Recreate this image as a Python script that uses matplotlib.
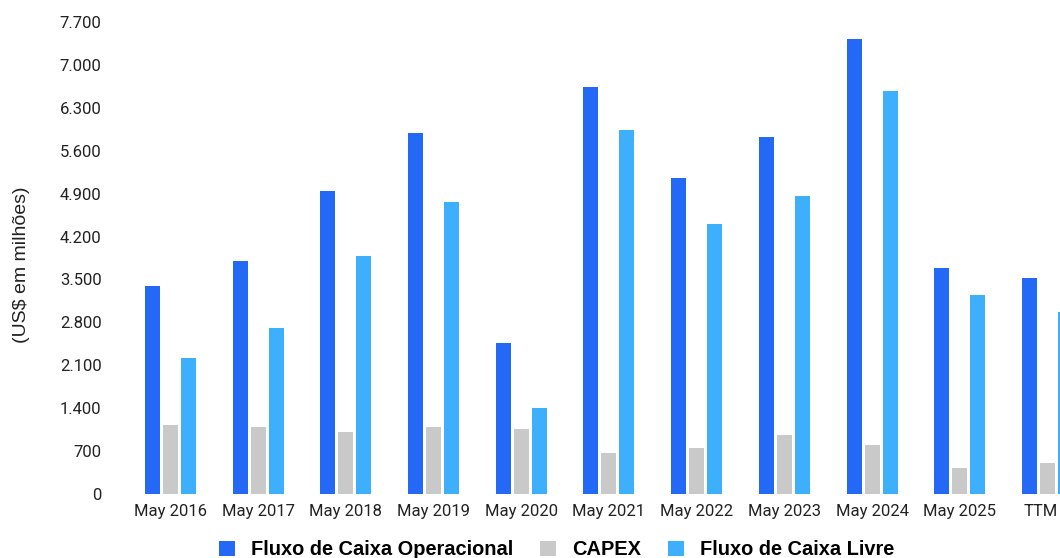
import matplotlib.pyplot as plt
from matplotlib.ticker import FuncFormatter, MultipleLocator
import matplotlib.transforms as mtransforms
import numpy as np

categories = ['May 2016', 'May 2017', 'May 2018', 'May 2019', 'May 2020', 'May 2021',
              'May 2022', 'May 2023', 'May 2024', 'May 2025', 'TTM']
fco = [3390, 3806, 4943, 5884, 2469, 6640, 5155, 5830, 7418, 3682, 3519]
capex = [1126, 1098, 1017, 1098, 1066, 669, 745, 963, 799, 424, 506]
fcl = [2224, 2703, 3888, 4759, 1398, 5933, 4405, 4862, 6580, 3241, 2974]

series_names = ['Fluxo de Caixa Operacional', 'CAPEX', 'Fluxo de Caixa Livre']
colors = ['#2469F5', '#C9C9C9', '#3DAFFC']

plt.rcParams['font.family'] = ['Roboto', 'DejaVu Sans']

fig = plt.figure(figsize=(10.6, 5.58), dpi=100)
ax = fig.add_axes([0.1195, 0.1147, 0.910, 0.8459])

x = np.arange(len(categories))
w = 0.171
step = 0.205
for k, (vals, name, c) in enumerate(zip([fco, capex, fcl], series_names, colors)):
    ax.bar(x + (k - 1) * step, vals, width=w, color=c, label=name, zorder=2)

ax.set_xlim(-0.5, len(categories) - 0.5)
ax.set_ylim(0, 7700)
ax.yaxis.set_major_locator(MultipleLocator(700))
ax.yaxis.set_major_formatter(FuncFormatter(lambda v, p: f'{int(v):,}'.replace(',', '.')))
ax.set_xticks(x)
ax.set_xticklabels(categories)
ax.tick_params(axis='both', length=0, labelsize=12, colors='#222222')
ax.tick_params(axis='y', pad=18)
ax.tick_params(axis='x', pad=7)
for s in ax.spines.values():
    s.set_visible(False)

# last label sits at the clipped right edge: pull it inside like the original
last = ax.get_xticklabels()[-1]
last.set_horizontalalignment('right')
last.set_transform(last.get_transform() + mtransforms.ScaledTranslation(0.10, 0, fig.dpi_scale_trans))

fig.text(0.0205, 0.525, '(US$ em milhões)', rotation=90, ha='center', va='center',
         fontsize=14, family='Liberation Sans', color='#222222')

leg = fig.legend(loc='center', bbox_to_anchor=(0.525, 0.015), ncol=3, frameon=False,
                 handlelength=0.8, handleheight=0.8, handletextpad=0.8, columnspacing=1.35,
                 prop={'family': 'Liberation Sans', 'weight': 'bold', 'size': 14.4})

fig.savefig('out.png', dpi=100)
